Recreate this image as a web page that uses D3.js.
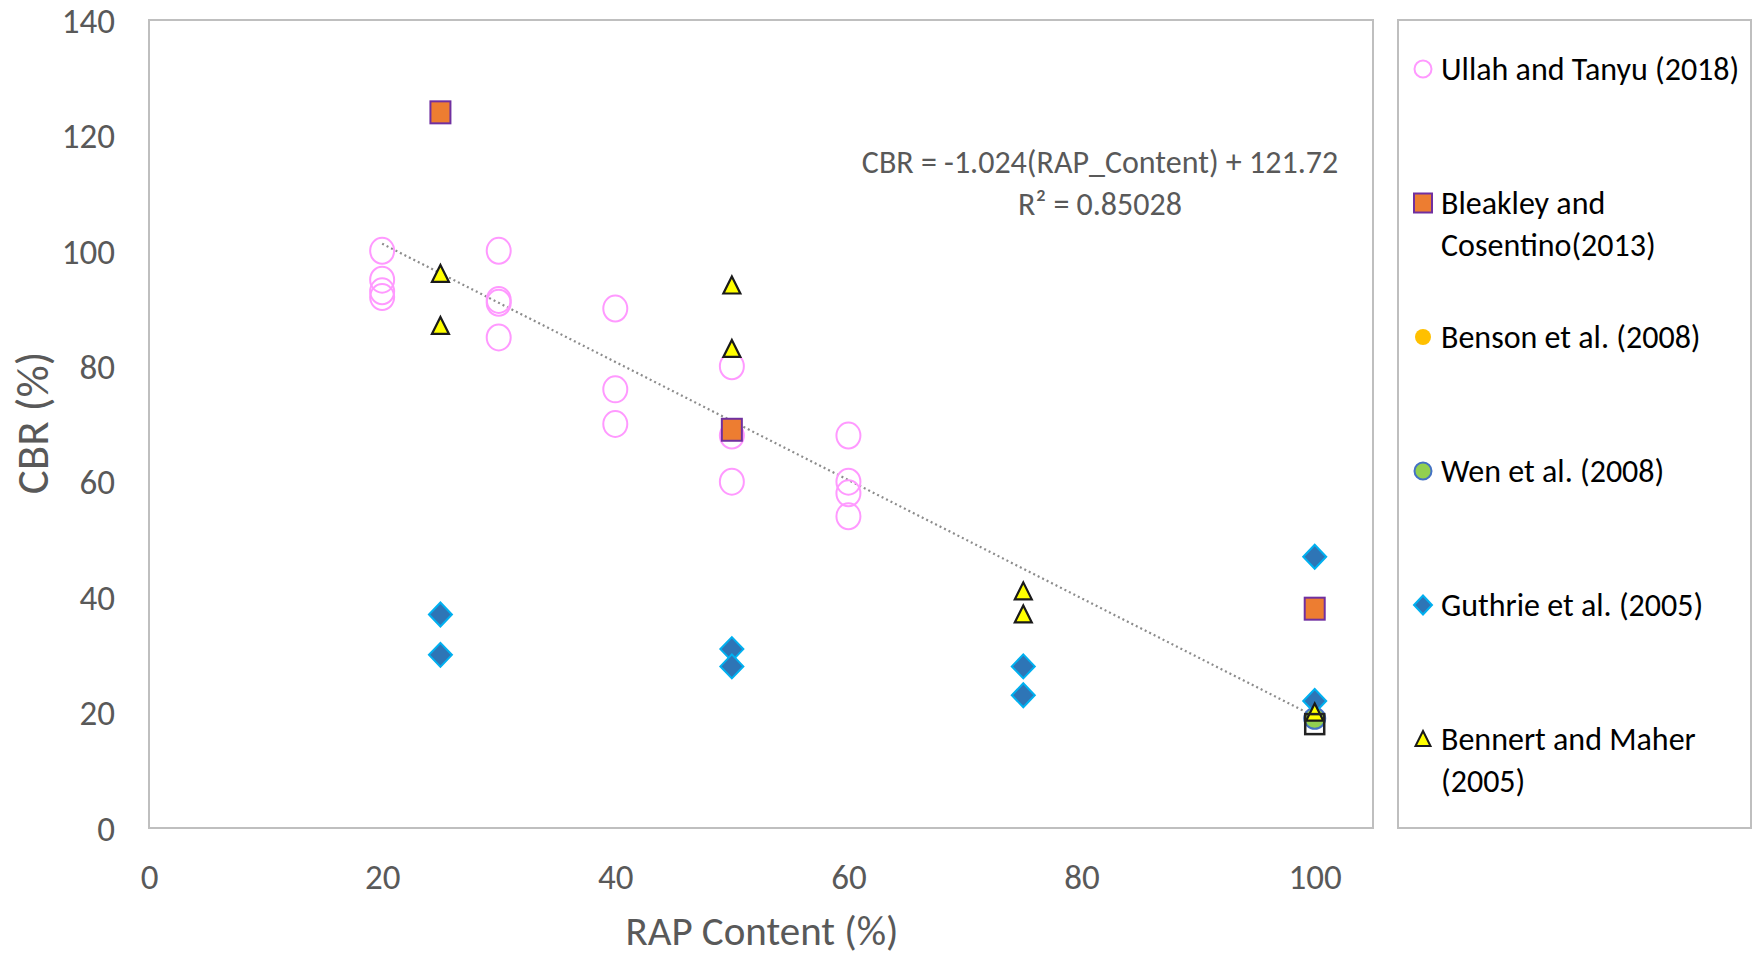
<!DOCTYPE html>
<html>
<head>
<meta charset="utf-8">
<script src="https://cdn.jsdelivr.net/npm/d3@7"></script>
<style>
    body { margin: 0; background: #fff; }
    text { font-family: Carlito, Calibri, Lato, sans-serif; }
    .tick text { fill: #595959; font-size: 35px; }
    .label { fill: #595959; font-size: 41px; }
    .labelY { fill: #595959; font-size: 45px; }
    .eq { fill: #595959; font-size: 32px; }
    .legendText { fill: #000; font-size: 32px; }
</style>
</head>
<body>
<svg id="cbr_graph"></svg>
<script>

// Tick labels
xTicks = [0, 20, 40, 60, 80, 100]
yTicks = [0, 20, 40, 60, 80, 100, 120, 140]

// Ullah and Tanyu (2018)
ullahX = [20, 20, 20, 20, 30, 30, 30, 30, 40, 40, 40, 50, 50, 50, 60, 60, 60, 60]
ullahY = [100, 95, 93, 92, 100, 91.5, 91, 85, 90, 76, 70, 80, 68, 60, 68, 60, 58, 54]

// Bleakley and Cosentino (2013)
bleakleyX = [25, 50, 100]
bleakleyY = [124, 69, 38]

// Benson et al. (2008)
bensonX = [100]
bensonY = [19]

// Wen et al. (2008)
wenX = [100]
wenY = [19]

// Guthrie et al. (2005)
guthrieX = [25, 25, 50, 50, 75, 75, 100, 100]
guthrieY = [37, 30, 31, 28, 28, 23, 47, 22]

// Bennert and Maher (2005)
bennertX = [25, 25, 50, 50, 75, 75, 100]
bennertY = [96, 87, 94, 83, 41, 37, 20]

// open black square, no legend entry
otherX = [100]
otherY = [18]

// Linear trendline
trendSlope = -1.024
trendIntercept = 121.72
trendRange = [20, 100]

legendLabels = [
    ["Ullah and Tanyu (2018)"],
    ["Bleakley and", "Cosentino(2013)"],
    ["Benson et al. (2008)"],
    ["Wen et al. (2008)"],
    ["Guthrie et al. (2005)"],
    ["Bennert and Maher", "(2005)"]
]

function zip(xs, ys) {
    return xs.map(function(x, i) { return { x: x, y: ys[i] } })
}

function createGraph() {

    totalWidth = 1754
    totalHeight = 960
    plot = { left: 149, top: 20, right: 1373, bottom: 828 }

    var svg = d3.select("#cbr_graph")
        .attr("width", totalWidth)
        .attr("height", totalHeight)

    svg.append("rect")
        .attr("width", totalWidth)
        .attr("height", totalHeight)
        .attr("fill", "#fff")

    const xScale = d3.scaleLinear()
        .domain([0, 105])
        .range([plot.left, plot.right])

    const yScale = d3.scaleLinear()
        .domain([0, 140])
        .range([plot.bottom, plot.top])

    // Plot area border
    svg.append("rect")
        .attr("x", plot.left)
        .attr("y", plot.top)
        .attr("width", plot.right - plot.left)
        .attr("height", plot.bottom - plot.top)
        .attr("fill", "none")
        .attr("stroke", "#bfbfbf")
        .attr("stroke-width", 2)

    // Axes (labels only)
    var xAxis = svg.append("g")
        .attr("transform", "translate(0," + plot.bottom + ")")
        .call(d3.axisBottom(xScale).tickValues(xTicks).tickSize(0).tickPadding(49))
    xAxis.select(".domain").remove()
    xAxis.selectAll("text").attr("dy", "0.35em")

    var yAxis = svg.append("g")
        .attr("transform", "translate(" + plot.left + ",0)")
        .call(d3.axisLeft(yScale).tickValues(yTicks).tickSize(0).tickPadding(34))
    yAxis.select(".domain").remove()
    yAxis.selectAll("text").attr("dy", "0.35em")

    // Trendline
    svg.append("path")
        .datum(trendRange.map(function(x) { return { x: x, y: trendSlope * x + trendIntercept } }))
        .attr("fill", "none")
        .attr("stroke", "#8c8c8c")
        .attr("stroke-width", 2.2)
        .attr("stroke-dasharray", "2,3")
        .attr("d", d3.line()
            .x(function(d) { return xScale(d.x) })
            .y(function(d) { return yScale(d.y) }))

    // Ullah: open pink circles
    svg.append("g").selectAll("ellipse")
        .data(zip(ullahX, ullahY))
        .join("ellipse")
        .attr("cx", function(d) { return xScale(d.x) })
        .attr("cy", function(d) { return yScale(d.y) })
        .attr("rx", 12)
        .attr("ry", 13)
        .attr("fill", "none")
        .attr("stroke", "#ff99ff")
        .attr("stroke-width", 2)

    // Bleakley: orange squares
    svg.append("g").selectAll("rect")
        .data(zip(bleakleyX, bleakleyY))
        .join("rect")
        .attr("x", function(d) { return xScale(d.x) - 10 })
        .attr("y", function(d) { return yScale(d.y) - 11 })
        .attr("width", 20)
        .attr("height", 22)
        .attr("fill", "#ed7d31")
        .attr("stroke", "#7030a0")
        .attr("stroke-width", 2)

    // Benson: gold dots
    svg.append("g").selectAll("circle")
        .data(zip(bensonX, bensonY))
        .join("circle")
        .attr("cx", function(d) { return xScale(d.x) })
        .attr("cy", function(d) { return yScale(d.y) })
        .attr("r", 9)
        .attr("fill", "#ffc000")

    // Wen: green dots
    svg.append("g").selectAll("circle")
        .data(zip(wenX, wenY))
        .join("circle")
        .attr("cx", function(d) { return xScale(d.x) })
        .attr("cy", function(d) { return yScale(d.y) })
        .attr("r", 10.5)
        .attr("fill", "#92d050")
        .attr("stroke", "#4472c4")
        .attr("stroke-width", 2)

    // Guthrie: blue diamonds
    svg.append("g").selectAll("path")
        .data(zip(guthrieX, guthrieY))
        .join("path")
        .attr("transform", function(d) { return "translate(" + xScale(d.x) + "," + yScale(d.y) + ")" })
        .attr("d", "M0,-12L11.5,0L0,12L-11.5,0Z")
        .attr("fill", "#2e75b6")
        .attr("stroke", "#00b0f0")
        .attr("stroke-width", 2)

    // Bennert: yellow triangles
    svg.append("g").selectAll("path")
        .data(zip(bennertX, bennertY))
        .join("path")
        .attr("transform", function(d) { return "translate(" + xScale(d.x) + "," + yScale(d.y) + ")" })
        .attr("d", "M0,-9L8.5,8L-8.5,8Z")
        .attr("fill", "#ffff00")
        .attr("stroke", "#1a1a1a")
        .attr("stroke-width", 2.2)

    // Open black square
    svg.append("g").selectAll("rect")
        .data(zip(otherX, otherY))
        .join("rect")
        .attr("x", function(d) { return xScale(d.x) - 9.5 })
        .attr("y", function(d) { return yScale(d.y) - 10 })
        .attr("width", 19)
        .attr("height", 20)
        .attr("fill", "none")
        .attr("stroke", "#222")
        .attr("stroke-width", 2.5)

    // Equation
    var eqX = 1100
    svg.append("text")
        .attr("class", "eq")
        .attr("x", eqX)
        .attr("y", 162)
        .attr("dy", "0.35em")
        .attr("text-anchor", "middle")
        .text("CBR = -1.024(RAP_Content) + 121.72")
    svg.append("text")
        .attr("class", "eq")
        .attr("x", eqX)
        .attr("y", 204)
        .attr("dy", "0.35em")
        .attr("text-anchor", "middle")
        .text("R² = 0.85028")

    loadTitles(svg)
    loadLegend(svg)
}

function loadTitles(svg) {
    // Title Y
    svg.append("text")
        .attr("class", "labelY")
        .attr("transform", "translate(32,423) rotate(-90)")
        .attr("dy", "0.35em")
        .attr("text-anchor", "middle")
        .text("CBR (%)")

    // Title X
    svg.append("text")
        .attr("class", "label")
        .attr("x", 762)
        .attr("y", 931)
        .attr("dy", "0.35em")
        .attr("text-anchor", "middle")
        .text("RAP Content (%)")
}

function loadLegend(svg) {
    var box = { x: 1398, y: 20, w: 353, h: 808 }

    svg.append("rect")
        .attr("x", box.x)
        .attr("y", box.y)
        .attr("width", box.w)
        .attr("height", box.h)
        .attr("fill", "none")
        .attr("stroke", "#bfbfbf")
        .attr("stroke-width", 2)

    var markerX = 1423
    var textX = 1441
    var rowY = function(i) { return 69 + i * 134 }
    var lineH = 42

    var g = svg.append("g")

    // markers
    g.append("circle").attr("cx", markerX).attr("cy", rowY(0)).attr("r", 8.5)
        .attr("fill", "none").attr("stroke", "#ff99ff").attr("stroke-width", 2)
    g.append("rect").attr("x", markerX - 9).attr("y", rowY(1) - 9.5).attr("width", 18).attr("height", 19)
        .attr("fill", "#ed7d31").attr("stroke", "#7030a0").attr("stroke-width", 2)
    g.append("circle").attr("cx", markerX).attr("cy", rowY(2)).attr("r", 8)
        .attr("fill", "#ffc000")
    g.append("circle").attr("cx", markerX).attr("cy", rowY(3)).attr("r", 8.5)
        .attr("fill", "#92d050").attr("stroke", "#4472c4").attr("stroke-width", 2)
    g.append("path").attr("transform", "translate(" + markerX + "," + rowY(4) + ")")
        .attr("d", "M0,-9.5L9,0L0,9.5L-9,0Z")
        .attr("fill", "#2e75b6").attr("stroke", "#00b0f0").attr("stroke-width", 2)
    g.append("path").attr("transform", "translate(" + markerX + "," + rowY(5) + ")")
        .attr("d", "M0,-8L7.5,7L-7.5,7Z")
        .attr("fill", "#ffff00").attr("stroke", "#1a1a1a").attr("stroke-width", 2)

    legendLabels.forEach(function(lines, i) {
        lines.forEach(function(line, j) {
            g.append("text")
                .attr("class", "legendText")
                .attr("x", textX)
                .attr("y", rowY(i) + j * lineH)
                .attr("dy", "0.35em")
                .text(line)
        })
    })
}

createGraph()

</script>
</body>
</html>
